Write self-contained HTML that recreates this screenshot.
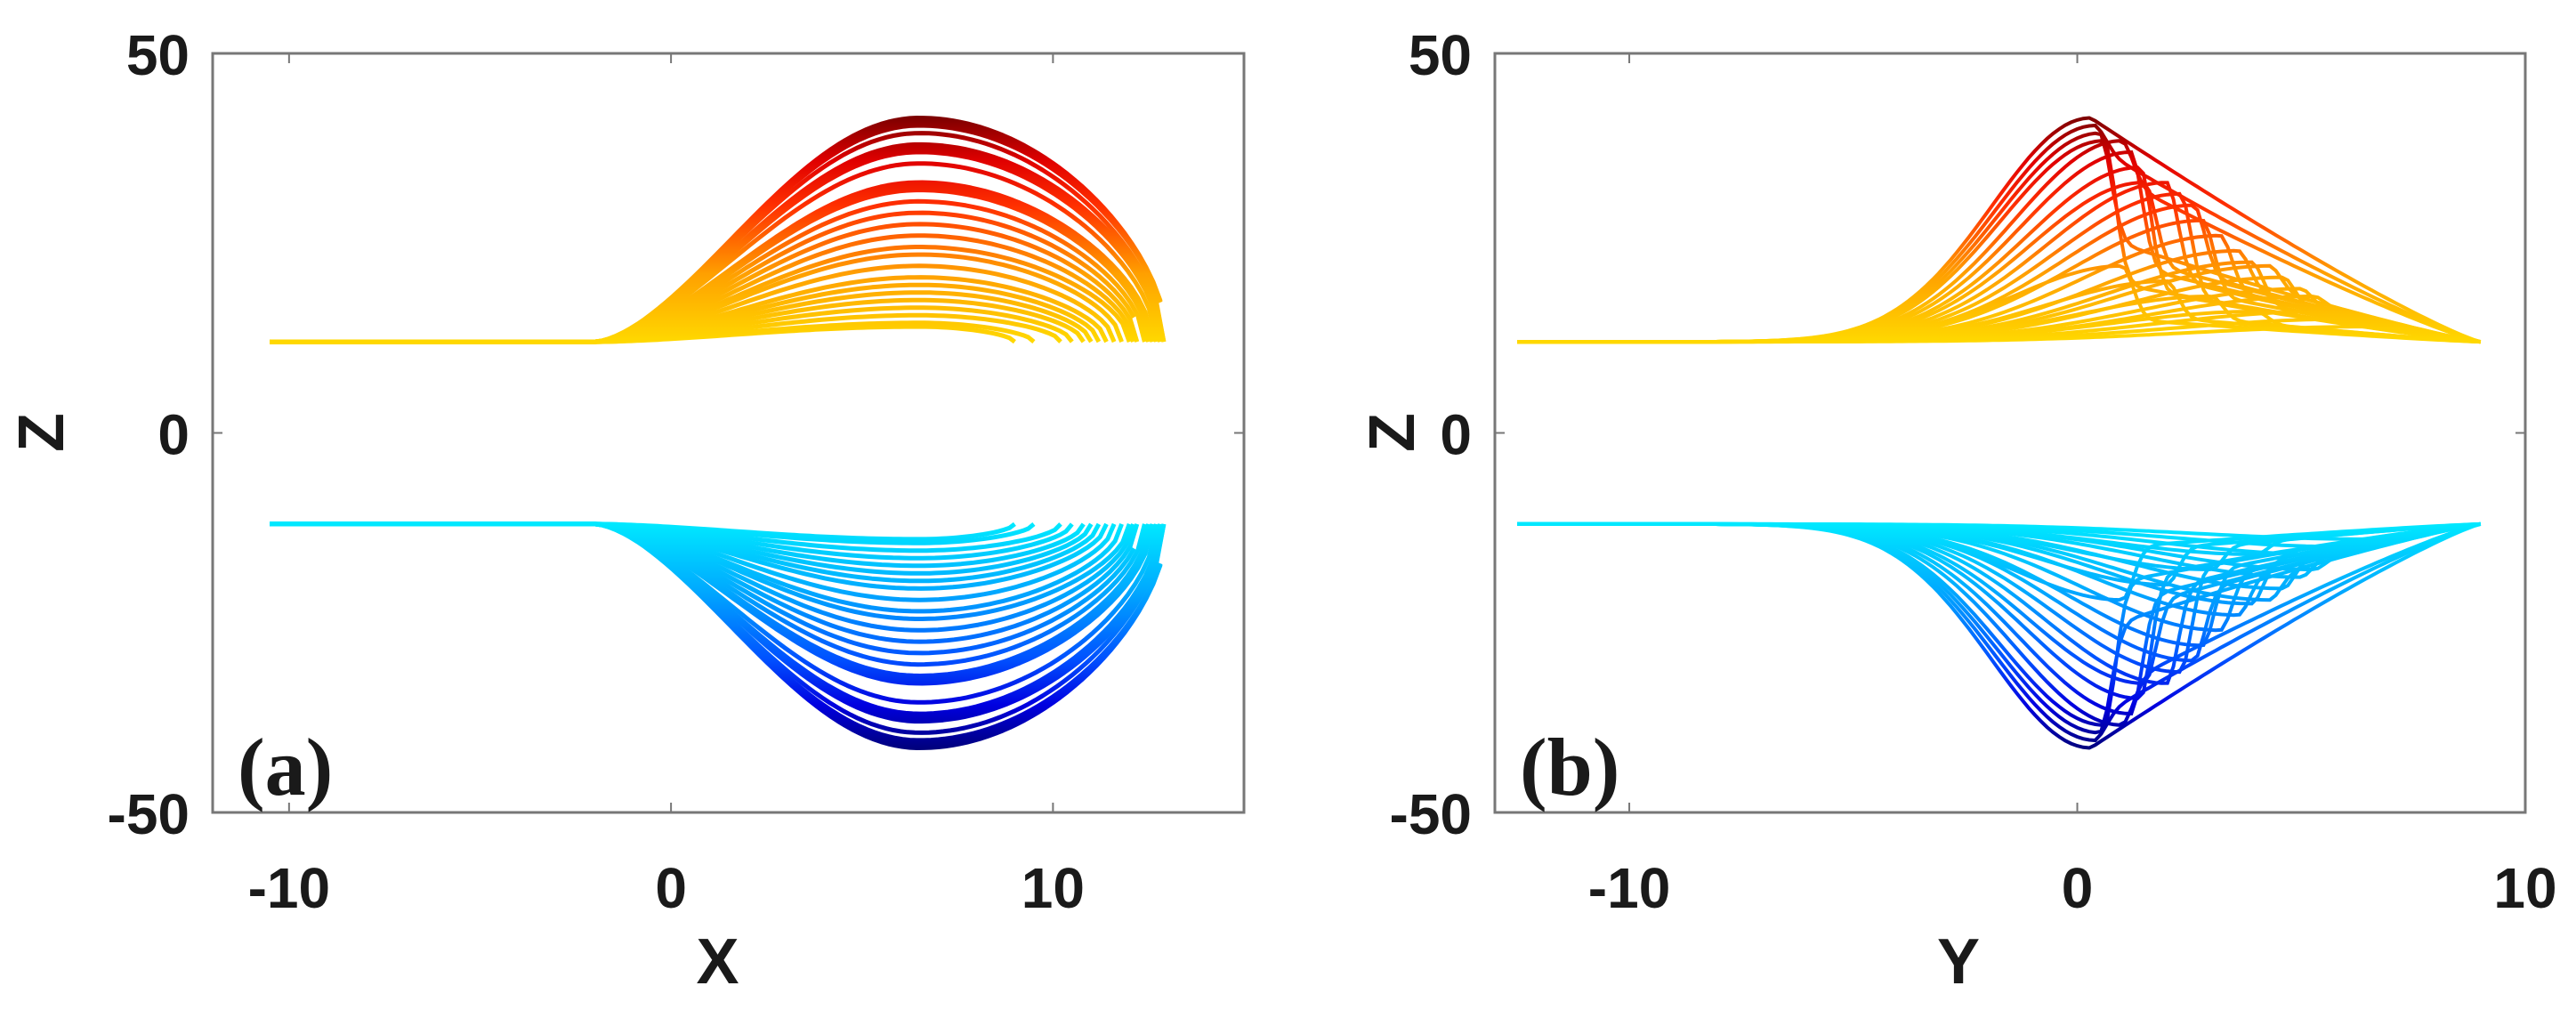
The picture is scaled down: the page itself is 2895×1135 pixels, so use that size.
<!DOCTYPE html>
<html><head><meta charset="utf-8"><style>
html,body{margin:0;padding:0;background:#fff;}
svg{display:block;}
text{font-family:"Liberation Sans",Arial,sans-serif;font-weight:bold;fill:#1a1a1a;}
</style></head><body>
<svg id="fig" width="2895" height="1135" viewBox="0 0 2895 1135">
<defs>
<linearGradient id="gTopA" gradientUnits="userSpaceOnUse" x1="0" y1="384" x2="0" y2="130">
<stop offset="0" stop-color="#ffd800"/><stop offset="0.3" stop-color="#ffa000"/><stop offset="0.6" stop-color="#ff3000"/><stop offset="0.8" stop-color="#e00000"/><stop offset="1" stop-color="#7a0000"/></linearGradient>
<linearGradient id="gBotA" gradientUnits="userSpaceOnUse" x1="0" y1="589" x2="0" y2="843">
<stop offset="0" stop-color="#00e8ff"/><stop offset="0.3" stop-color="#00a8ff"/><stop offset="0.6" stop-color="#0050ff"/><stop offset="0.8" stop-color="#0000e0"/><stop offset="1" stop-color="#00007a"/></linearGradient>
</defs>
<g id="panelA"></g>
<g id="panelB"></g>
</svg>
<script>
// ---- data ----
const leftPeaks = [41.5,41,40.5,39.5,38,37.5,37,35.5,33,32.5,32,30.5,29,27.5,26,24.5,23.5,22,20.5,19.5,18.5,17.5,16.5,15.5,14.5,14];
const leftEnds  = [13,13,13,12.9,12.9,12.8,12.8,12.7,12.6,12.6,12.5,12.4,12.3,12.2,12.1,12,11.8,11.6,11.4,11.2,11,10.8,10.5,10.2,9.5,9];
const rightPeakY = [0.3,0.4,0.5,0.6,1.0,1.2,1.4,1.5,2.0,2.3,2.6,2.8,3.2,3.6,3.9,4.3,4.6,5.0,5.3,5.5,6.0,6.5,4.0,3.0,2.0,1.0];
const rightPeakZ = [41.5,40.5,39.5,38.5,38.5,37,35,33,33,31.5,30,28,26,24,22.5,22,20.5,19,18,16,15,14,16,18,20,22];
const rightTail  = [1,0.9,0.5,0.3,0.8,0.4,0.3,0.5,0.4,0.3,0.5,0.4,0.5,0.6,0.5,0.7,0.6,0.7,0.8,0.8,0.9,1,0.6,0.5,0.4,0.3];
const baseZ = 12;
const xTicksA = [-10,0,10];
const xTicksB = [-10,0,10];
const yTicks = [-50,0,50];

const NS="http://www.w3.org/2000/svg";
function el(tag,attrs,parent){const e=document.createElementNS(NS,tag);for(const k in attrs)e.setAttribute(k,attrs[k]);parent.appendChild(e);return e;}

function makeAxes(g,x0,x1,xmin,xmax,xticks,xlabel,panelLabel,prefix,zx){
  const y0=60,y1=913;
  const sx=v=>x0+(v-xmin)/(xmax-xmin)*(x1-x0);
  const sy=v=>y1-(v+50)/100*(y1-y0);
  return {sx,sy,draw(){
    const box=el('rect',{x:x0,y:y0,width:x1-x0,height:y1-y0,fill:'none',stroke:'#777','stroke-width':3},g);
    
    xticks.forEach(t=>{const X=sx(t);
      el('line',{x1:X,y1:y1,x2:X,y2:y1-11,stroke:'#777','stroke-width':2},g);
      el('line',{x1:X,y1:y0,x2:X,y2:y0+11,stroke:'#777','stroke-width':2},g);
      const tx=el('text',{x:X,y:1020,'text-anchor':'middle','font-size':64},g);tx.textContent=t;
      });
    yTicks.forEach(t=>{const Y=sy(t);
      el('line',{x1:x0,y1:Y,x2:x0+11,y2:Y,stroke:'#777','stroke-width':2},g);
      el('line',{x1:x1,y1:Y,x2:x1-11,y2:Y,stroke:'#777','stroke-width':2},g);
      const ty=el('text',{x:x0-26,y:Y+24,'text-anchor':'end','font-size':64},g);ty.textContent=t;
      });
    const xl=el('text',{x:(x0+x1)/2+ (prefix==='a'?-12:-58),y:1105,'text-anchor':'middle','font-size':72},g);xl.textContent=xlabel;
    
    const zl=el('text',{x:zx,y:486,'text-anchor':'middle','font-size':72,transform:`rotate(-90 ${zx} 486)`,dy:25},g);zl.textContent='Z';
    
    const pl=el('text',{x:x0+28,y:893,'font-size':92,style:'font-family:"Liberation Serif",serif;font-weight:bold'},g);pl.textContent=panelLabel;
    
  }};
}

// Panel A
const gA=document.getElementById('panelA');
const A=makeAxes(gA,239,1398,-12,15,xTicksA,'X','(a)','a',46);
A.draw();
const curvesA=el('g',{},gA);

leftPeaks.forEach((h,i)=>{
  const e=leftEnds[i], xs=-2, xp=6.5;
  [1,-1].forEach(sgn=>{
    let d=`M${A.sx(-10.5)},${A.sy(sgn*baseZ)} L${A.sx(xs)},${A.sy(sgn*baseZ)}`;
    for(let k=1;k<=80;k++){const x=xs+(e-xs)*k/80;let f;
      if(x<=xp) f=Math.pow(Math.sin(Math.PI/2*(x-xs)/(xp-xs)),1.6);
      else f=Math.pow(Math.cos(Math.PI/2*(x-xp)/(e-xp)),0.55);
      d+=` L${A.sx(x).toFixed(1)},${A.sy(sgn*(baseZ+(h-baseZ)*f)).toFixed(1)}`;}
    const p=el('path',{d,fill:'none',stroke:sgn>0?'url(#gTopA)':'url(#gBotA)','stroke-width':5,'stroke-linejoin':'round'},curvesA);
    
    
  });
});

// Panel B
const gB=document.getElementById('panelB');
const B=makeAxes(gB,1680,2838,-13,10,xTicksB,'Y','(b)','b',1564);
B.draw();
const curvesB=el('g',{},gB);

rightPeakY.forEach((yp,i)=>{
  const h=rightPeakZ[i], a=rightTail[i], w=3.0+0.4*yp, ys=-12.5, ye=9;
  [1,-1].forEach(sgn=>{
    let d='';
    for(let k=0;k<=160;k++){const y=ys+(ye-ys)*k/160;let f;
      if(y<=yp) f=Math.exp(-Math.pow((yp-y)/w,2));
      else f=(1-a)*Math.exp(-Math.pow((y-yp)/0.35,2))+a*Math.pow((ye-y)/(ye-yp),1.15);
      d+=(k?' L':'M')+B.sx(y).toFixed(1)+','+B.sy(sgn*(baseZ+(h-baseZ)*f)).toFixed(1);}
    const p=el('path',{d,fill:'none',stroke:sgn>0?'url(#gTopA)':'url(#gBotA)','stroke-width':4},curvesB);
    
    
  });
});
</script>
</body></html>
